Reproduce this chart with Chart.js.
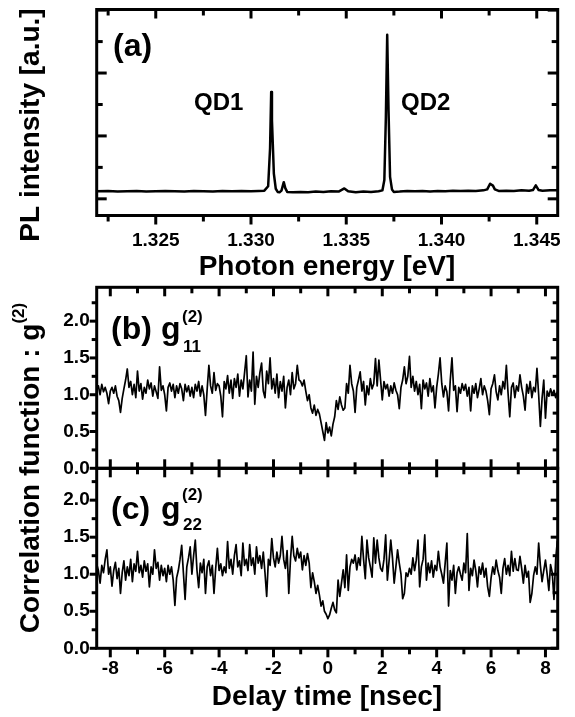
<!DOCTYPE html>
<html>
<head>
<meta charset="utf-8">
<script src="https://cdn.jsdelivr.net/npm/chart.js@4.4.1/dist/chart.umd.min.js"></script>
<style>
  html, body { margin: 0; padding: 0; background: #fff; }
  #wrap { position: relative; width: 575px; height: 717px; }
  #wrap canvas { position: absolute; left: 0; top: 0; }
</style>
</head>
<body>
<div id="wrap">
  <canvas id="panelA" width="575" height="717"></canvas>
  <canvas id="panelB" width="575" height="717"></canvas>
  <canvas id="panelC" width="575" height="717"></canvas>
</div>
<script>
// ---- data ----

// (a) PL spectrum
const ENERGY = [
  1.3219, 1.3225, 1.3230, 1.3235, 1.3240, 1.3245, 1.3250, 1.3255, 1.3260, 1.3265,
  1.3270, 1.3275, 1.3280, 1.3285, 1.3290, 1.3295, 1.3300, 1.3304, 1.3307, 1.3309,
  1.3310, 1.33106, 1.3311, 1.3312, 1.3313, 1.3314, 1.3315, 1.3316, 1.33172, 1.3318,
  1.3319, 1.3322, 1.3326, 1.3330, 1.3334, 1.3338, 1.3342, 1.3346, 1.3349, 1.3351,
  1.3355, 1.3359, 1.3363, 1.3367, 1.3369, 1.3370, 1.33708, 1.33715, 1.33722, 1.3373,
  1.3374, 1.3375, 1.3378, 1.3382, 1.3386, 1.3390, 1.3394, 1.3398, 1.3402, 1.3406,
  1.3410, 1.3414, 1.3418, 1.3422, 1.3424, 1.34255, 1.3427, 1.3428, 1.3430, 1.3434,
  1.3438, 1.3442, 1.3446, 1.3448, 1.34495, 1.3451, 1.3453, 1.3457, 1.3461
];
const PL_INTENSITY = [
  0.24, 0.25, 0.23, 0.24, 0.25, 0.23, 0.24, 0.25, 0.24, 0.23,
  0.25, 0.24, 0.23, 0.25, 0.24, 0.25, 0.24, 0.25, 0.26, 0.40,
  1.60, 3.40, 2.50, 0.80, 0.32, 0.22, 0.21, 0.26, 0.53, 0.34,
  0.22, 0.21, 0.22, 0.21, 0.23, 0.22, 0.24, 0.23, 0.33, 0.24,
  0.21, 0.23, 0.22, 0.24, 0.27, 0.60, 2.60, 5.22, 2.80, 0.70,
  0.30, 0.22, 0.23, 0.25, 0.24, 0.25, 0.23, 0.25, 0.24, 0.26,
  0.25, 0.26, 0.25, 0.27, 0.30, 0.48, 0.42, 0.30, 0.25, 0.26,
  0.25, 0.27, 0.26, 0.28, 0.43, 0.28, 0.26, 0.27, 0.27
];
const E_MAJOR = [1.325, 1.330, 1.335, 1.340, 1.345];
const E_MINOR = [1.3225, 1.3275, 1.3325, 1.3375, 1.3425];
const PL_MAJOR = [0, 2, 4, 6];
const PL_MINOR = [1, 3, 5];

// (b), (c) correlation histograms, bins of 1/16 ns starting at -8.5 ns
const T_START = -8.5;
const T_STEP = 0.0625;
const G11 = [
  1.06, 1.12, 1.00, 1.14, 1.04, 1.10, 1.02, 0.88,
  1.05, 1.10, 1.02, 1.12, 0.98, 0.92, 0.76, 0.95, 1.08, 1.20, 1.35, 1.10, 1.18, 1.00, 1.14, 0.96,
  1.32, 1.05, 1.15, 0.94, 1.10, 1.02, 1.20, 1.08, 1.16, 0.98, 1.12, 1.04, 0.95, 1.38, 1.06, 1.12,
  1.00, 0.78, 1.10, 1.16, 1.05, 1.14, 0.96, 1.12, 1.02, 1.15, 1.08, 0.92, 1.14, 1.04, 1.12, 0.98,
  1.10, 0.96, 1.14, 1.05, 1.18, 0.98, 1.12, 1.00, 0.72, 1.08, 1.40, 1.12, 1.02, 1.30, 1.06, 1.15,
  1.12, 0.98, 0.70, 1.18, 1.08, 1.26, 1.02, 1.20, 0.95, 1.22, 1.10, 1.28, 0.98, 1.20, 1.08, 1.30,
  1.53, 0.97, 1.20, 1.05, 1.58, 0.87, 1.25, 1.10, 1.30, 1.43, 1.05, 0.96, 1.32, 1.15, 1.50, 1.08,
  1.22, 1.02, 1.28, 0.96, 1.18, 1.05, 1.25, 0.82, 1.10, 1.20, 1.00, 1.30, 1.08, 1.15, 1.40, 1.20,
  1.18, 1.12, 1.20, 1.05, 0.92, 1.00, 0.82, 0.75, 0.86, 0.72, 0.80, 0.74, 0.62, 0.50, 0.38, 0.62,
  0.48, 0.56, 0.44, 0.60, 0.70, 0.92, 0.80, 0.97, 0.86, 0.79, 0.82, 1.15, 1.02, 1.40, 1.15, 1.05,
  0.76, 1.10, 1.20, 1.31, 1.05, 1.18, 0.86, 1.12, 1.00, 1.22, 1.08, 1.15, 1.49, 1.12, 1.47, 1.20,
  0.93, 1.18, 1.08, 1.14, 0.98, 1.12, 1.02, 1.16, 1.06, 1.00, 0.81, 1.10, 1.20, 1.38, 1.15, 1.25,
  1.52, 1.10, 1.25, 1.05, 1.18, 1.00, 1.14, 0.81, 1.20, 1.08, 1.16, 0.98, 1.22, 1.04, 1.12, 0.82,
  1.10, 1.28, 1.50, 1.15, 0.97, 1.12, 1.04, 0.78, 1.20, 1.50, 1.06, 1.12, 0.77, 1.10, 1.02, 1.15,
  1.06, 1.14, 0.98, 1.10, 0.78, 1.12, 1.02, 1.15, 0.96, 1.08, 1.22, 1.00, 1.12, 1.05, 0.92, 0.73,
  1.08, 1.15, 1.27, 1.04, 0.93, 1.12, 1.00, 1.18, 1.08, 1.40, 1.02, 0.70, 1.10, 1.16, 0.96, 1.12,
  1.05, 1.27, 1.10, 0.98, 0.79, 1.14, 1.02, 1.18, 0.96, 1.10, 1.04, 1.36, 1.00, 0.57, 0.95, 1.20,
  0.68, 1.05, 0.98, 1.08, 1.00, 1.06, 0.96, 1.04
];
const G22 = [
  1.14, 1.05, 0.88, 1.12, 1.02, 1.20, 1.33, 1.00,
  1.10, 0.84, 1.05, 1.16, 0.94, 1.08, 0.74, 1.02, 1.18, 0.92, 1.10, 0.98, 1.20, 0.90, 1.14, 1.04,
  1.31, 1.02, 1.12, 0.96, 1.18, 1.04, 1.14, 0.83, 1.10, 1.00, 1.33, 1.08, 1.16, 0.92, 1.12, 0.98,
  1.08, 0.90, 1.12, 1.00, 1.10, 0.92, 0.58, 0.95, 1.05, 1.20, 1.39, 1.02, 0.66, 1.10, 1.22, 1.37,
  1.00, 1.25, 1.46, 1.05, 0.82, 1.15, 1.02, 1.20, 0.74, 1.10, 1.18, 0.98, 1.12, 0.74, 1.08, 1.35,
  1.05, 1.14, 0.98, 1.10, 1.02, 1.44, 1.08, 1.20, 1.00, 1.25, 1.40, 1.10, 1.18, 0.98, 1.42, 1.12,
  1.20, 1.05, 1.40, 1.12, 1.22, 1.00, 1.37, 1.15, 1.25, 1.08, 1.30, 1.02, 0.70, 1.20, 1.12, 1.48,
  1.22, 1.10, 1.30, 1.15, 1.25, 1.51, 1.20, 1.08, 1.32, 0.74, 1.20, 1.51, 1.25, 1.18, 1.35, 1.22,
  1.30, 1.06, 1.25, 1.12, 1.28, 1.15, 0.82, 1.02, 0.90, 0.74, 0.85, 0.72, 0.57, 0.64, 0.50, 0.46,
  0.40, 0.45, 0.54, 0.62, 0.52, 0.48, 0.92, 0.70, 0.88, 1.06, 0.82, 1.26, 0.78, 1.10, 1.20, 1.15,
  1.26, 1.06, 1.22, 1.12, 1.51, 1.20, 0.94, 1.46, 1.22, 1.10, 0.96, 1.49, 1.15, 1.46, 1.22, 1.08,
  1.04, 1.20, 1.53, 0.92, 1.18, 1.46, 1.22, 0.88, 1.10, 1.33, 1.15, 1.00, 0.67, 0.74, 1.02, 0.97,
  1.08, 1.00, 1.22, 1.05, 1.19, 1.46, 0.83, 1.10, 1.20, 1.53, 0.92, 1.15, 1.02, 1.18, 0.96, 1.12,
  1.05, 1.31, 1.10, 1.00, 0.88, 1.15, 1.42, 0.57, 1.05, 0.92, 1.12, 0.74, 1.02, 1.10, 1.00, 0.92,
  1.15, 1.02, 1.55, 0.78, 1.08, 0.98, 1.19, 1.05, 0.83, 1.10, 1.00, 1.15, 0.96, 1.08, 0.83, 0.70,
  0.95, 1.10, 1.00, 1.19, 1.05, 0.96, 0.74, 1.08, 1.21, 1.00, 1.12, 0.98, 1.31, 1.04, 1.21, 1.06,
  1.05, 1.24, 1.08, 0.88, 1.12, 0.96, 1.04, 0.62, 0.74, 0.98, 1.10, 1.00, 1.42, 1.12, 0.90, 1.05,
  1.19, 1.00, 0.78, 1.13, 1.02, 0.66, 1.20, 1.45
];
const T_MAJOR = [-8, -6, -4, -2, 0, 2, 4, 6, 8];
const T_MINOR = [-7, -5, -3, -1, 1, 3, 5, 7];
const G_MAJOR = [0, 0.5, 1.0, 1.5, 2.0];
const G_MINOR = [0.25, 0.75, 1.25, 1.75, 2.25];

// ---- layout ----
const W = 575, H = 717;
const FONT = '"Liberation Sans", Arial, Helvetica, sans-serif';
const LEFT = 96.7, RIGHT = 557.7;
const A_TOP = 9.5, A_BOT = 215.5;
const B_TOP = 287.3, MID = 468.3, C_BOT = 648.3;
const XAXIS_H = 40;
const TITLE_SIZE = 28;

// frame + ticks drawn on the four sides, inward or outward
const framePlugin = {
  id: 'frame',
  afterDraw(chart, args, o) {
    const { ctx, chartArea: a, scales: { x, y } } = chart;
    ctx.save();
    ctx.strokeStyle = '#000';
    ctx.lineWidth = 3;
    const sgn = { top: 1, bottom: -1, left: 1, right: -1 };
    const side = (name, vals, len) => {
      const d = (o.dir[name] === 'in' ? 1 : -1) * sgn[name] * len;
      vals.forEach(v => {
        ctx.beginPath();
        if (name === 'top' || name === 'bottom') {
          const px = x.getPixelForValue(v), py = name === 'top' ? a.top : a.bottom;
          ctx.moveTo(px, py); ctx.lineTo(px, py + d);
        } else {
          const py = y.getPixelForValue(v), px = name === 'left' ? a.left : a.right;
          ctx.moveTo(px, py); ctx.lineTo(px + d, py);
        }
        ctx.stroke();
      });
    };
    ['top', 'bottom'].forEach(s => { side(s, o.xMajor, o.xLen[0]); side(s, o.xMinor, o.xLen[1]); });
    ['left', 'right'].forEach(s => { side(s, o.yMajor, o.yLen[0]); side(s, o.yMinor, o.yLen[1]); });
    ctx.strokeRect(a.left, a.top, a.right - a.left, a.bottom - a.top);
    ctx.restore();
  }
};

// free text: titles, panel letters, g^(2) labels
const textPlugin = {
  id: 'texts',
  afterDraw(chart, args, o) {
    const ctx = chart.ctx;
    ctx.save();
    ctx.fillStyle = '#000';
    (o.items || []).forEach(it => {
      const runs = it.runs || [{ t: it.t, size: it.size, dy: 0 }];
      runs.forEach(r => { ctx.font = `bold ${r.size}px ${FONT}`; r.w = ctx.measureText(r.t).width; });
      const total = runs.reduce((s, r) => s + r.w, 0);
      ctx.save();
      ctx.translate(it.x, it.y);
      if (it.rot) ctx.rotate(-Math.PI / 2);
      ctx.textBaseline = it.baseline || 'alphabetic';
      ctx.textAlign = 'left';
      let cx = it.align === 'center' ? -total / 2 : 0;
      runs.forEach(r => {
        ctx.font = `bold ${r.size}px ${FONT}`;
        ctx.fillText(r.t, cx, r.dy || 0);
        cx += r.w;
      });
      ctx.restore();
    });
    ctx.restore();
  }
};

const tickFont = { family: FONT, size: 19, weight: 'bold' };

function makeChart(id, cfg) {
  const xScale = {
    type: 'linear', min: cfg.xMin, max: cfg.xMax,
    display: cfg.xLabels,
    grid: { display: false, drawTicks: false },
    border: { display: false },
    ticks: { color: '#000', font: tickFont, padding: cfg.xPad, maxRotation: 0,
             callback: cfg.xFmt },
    afterBuildTicks: s => { s.ticks = cfg.xTicks.map(v => ({ value: v })); },
    afterFit: s => { s.height = cfg.xLabels ? XAXIS_H : 0; s.paddingLeft = 0; s.paddingRight = 0; }
  };
  const yScale = {
    type: 'linear', min: cfg.yMin, max: cfg.yMax,
    display: cfg.yLabels,
    grid: { display: false, drawTicks: false },
    border: { display: false },
    ticks: { color: '#000', font: tickFont, padding: 7, callback: v => v.toFixed(1) },
    afterBuildTicks: s => { s.ticks = G_MAJOR.map(v => ({ value: v })); },
    afterFit: s => { s.width = cfg.yLabels ? LEFT : 0; s.paddingTop = 0; s.paddingBottom = 0; }
  };
  return new Chart(document.getElementById(id), {
    type: 'line',
    data: { datasets: [{ data: cfg.points, borderColor: '#000', borderWidth: cfg.lineWidth,
                         pointRadius: 0, tension: 0, fill: false, borderJoinStyle: 'round' }] },
    options: {
      responsive: false, animation: false, devicePixelRatio: 1, events: [],
      layout: { padding: cfg.padding },
      plugins: { legend: { display: false }, tooltip: { enabled: false },
                 frame: cfg.frame, texts: { items: cfg.texts } },
      scales: { x: xScale, y: yScale }
    },
    plugins: [framePlugin, textPlugin]
  });
}

const spectrum = ENERGY.map((e, i) => ({ x: e, y: PL_INTENSITY[i] }));
const binned = arr => arr.map((g, i) => ({ x: T_START + i * T_STEP, y: g }));

// (a)
makeChart('panelA', {
  points: spectrum, lineWidth: 2.5,
  xMin: 1.3219, xMax: 1.3461, yMin: -0.53, yMax: 6.02,
  xLabels: true, yLabels: false, xTicks: E_MAJOR, xPad: 14, xFmt: v => v.toFixed(3),
  padding: { left: LEFT, right: W - RIGHT, top: A_TOP, bottom: H - A_BOT - XAXIS_H },
  frame: { xMajor: E_MAJOR, xMinor: E_MINOR, yMajor: PL_MAJOR, yMinor: PL_MINOR,
           xLen: [9, 6], yLen: [10, 6],
           dir: { top: 'in', bottom: 'out', left: 'in', right: 'in' } },
  texts: [
    { t: 'PL intensity [a.u.]', size: TITLE_SIZE, x: 31, y: 125, rot: true, align: 'center', baseline: 'middle' },
    { t: 'Photon energy [eV]', size: TITLE_SIZE, x: 327, y: 267, align: 'center', baseline: 'middle' },
    { t: '(a)', size: 32, x: 113, y: 56 },
    { t: 'QD1', size: 24, x: 194, y: 110 },
    { t: 'QD2', size: 24, x: 401, y: 110 }
  ]
});

// (b)
makeChart('panelB', {
  points: binned(G11), lineWidth: 1.7,
  xMin: -8.5, xMax: 8.45, yMin: 0, yMax: 2.46,
  xLabels: false, yLabels: true, xTicks: T_MAJOR, xPad: 8, xFmt: v => String(v),
  padding: { left: 0, right: W - RIGHT, top: B_TOP, bottom: H - MID },
  frame: { xMajor: T_MAJOR, xMinor: T_MINOR, yMajor: G_MAJOR, yMinor: G_MINOR,
           xLen: [9, 6], yLen: [7, 5],
           dir: { top: 'in', bottom: 'in', left: 'out', right: 'in' } },
  texts: [
    { t: '(b)', size: 32, x: 111, y: 339 },
    { t: 'g', size: 32, x: 161, y: 339 },
    { t: '(2)', size: 17, x: 182, y: 322 },
    { t: '11', size: 17, x: 183, y: 352 }
  ]
});

// (c)
makeChart('panelC', {
  points: binned(G22), lineWidth: 1.7,
  xMin: -8.5, xMax: 8.45, yMin: 0, yMax: 2.43,
  xLabels: true, yLabels: true, xTicks: T_MAJOR, xPad: 9, xFmt: v => String(v),
  padding: { left: 0, right: W - RIGHT, top: MID, bottom: H - C_BOT - XAXIS_H },
  frame: { xMajor: T_MAJOR, xMinor: T_MINOR, yMajor: G_MAJOR, yMinor: G_MINOR,
           xLen: [9, 6], yLen: [7, 5],
           dir: { top: 'in', bottom: 'out', left: 'out', right: 'in' } },
  texts: [
    { t: '(c)', size: 32, x: 111, y: 519 },
    { t: 'g', size: 32, x: 161, y: 519 },
    { t: '(2)', size: 17, x: 182, y: 500 },
    { t: '22', size: 17, x: 183, y: 530 },
    { runs: [{ t: 'Correlation function : g', size: TITLE_SIZE, dy: 0 }, { t: '(2)', size: 17, dy: -12 }],
      x: 31, y: 468, rot: true, align: 'center', baseline: 'middle' },
    { t: 'Delay time [nsec]', size: TITLE_SIZE, x: 327, y: 697, align: 'center', baseline: 'middle' }
  ]
});
</script>
</body>
</html>
